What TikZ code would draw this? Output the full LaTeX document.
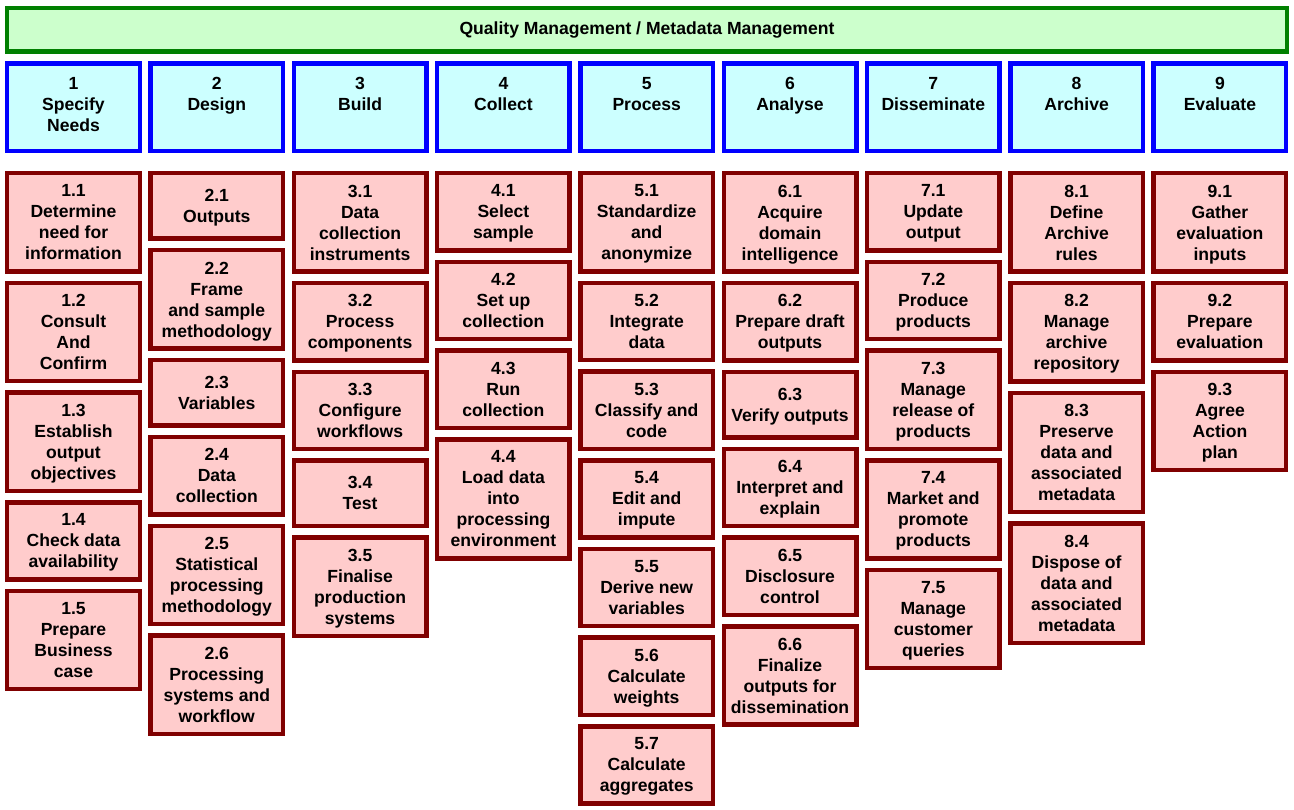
\documentclass[tikz,border=0pt]{standalone}
\usepackage{fontspec}
\setmainfont{Liberation Sans}
\usetikzlibrary{positioning}
\definecolor{qgreen}{RGB}{0,128,0}
\definecolor{qgreenfill}{RGB}{204,255,204}
\definecolor{pblue}{RGB}{0,0,255}
\definecolor{pbluefill}{RGB}{204,255,255}
\definecolor{sred}{RGB}{128,0,0}
\definecolor{sredfill}{RGB}{255,204,204}

\begin{document}
\begin{tikzpicture}[
  font=\bfseries\fontsize{10}{11.95}\selectfont,
  band/.style={draw=qgreen,fill=qgreenfill,line width=0.09cm,minimum width=25.59cm,minimum height=0.87cm,inner sep=0pt},
  phase/.style={draw=pblue,fill=pbluefill,line width=0.09cm,minimum width=2.65cm,minimum height=1.75cm,align=center,inner sep=2pt,execute at begin node=\strut},
  subproc/.style={draw=sred,fill=sredfill,line width=0.09cm,minimum width=2.65cm,minimum height=1.31cm,align=center,inner xsep=2pt,inner ysep=0.23cm,text depth=0pt}
]
  \useasboundingbox (0,0) rectangle (25.88,-16.2);

  \node[band] (qm) at (12.94,-0.60) {Quality Management / Metadata Management};

  % phases
  \node[phase,below=0.15cm of qm.south west,anchor=north west] (p1) {1\\Specify\\Needs};
  \node[phase,right=0.126cm of p1] (p2) {2\\Design\\};
  \node[phase,right=0.126cm of p2] (p3) {3\\Build\\};
  \node[phase,right=0.126cm of p3] (p4) {4\\Collect\\};
  \node[phase,right=0.126cm of p4] (p5) {5\\Process\\};
  \node[phase,right=0.126cm of p5] (p6) {6\\Analyse\\};
  \node[phase,right=0.126cm of p6] (p7) {7\\Disseminate\\};
  \node[phase,right=0.126cm of p7] (p8) {8\\Archive\\};
  \node[phase,right=0.126cm of p8] (p9) {9\\Evaluate\\};

  % 1 specify needs
  \node[subproc,below=0.35cm of p1] (s11) {1.1\\Determine\\need for\\information};
  \node[subproc,below=0.14cm of s11] (s12) {1.2\\Consult\\And\\Confirm};
  \node[subproc,below=0.14cm of s12] (s13) {1.3\\Establish\\output\\objectives};
  \node[subproc,below=0.14cm of s13] (s14) {1.4\\Check data\\availability};
  \node[subproc,below=0.14cm of s14] (s15) {1.5\\Prepare\\Business\\case};

  % 2 design
  \node[subproc,below=0.35cm of p2] (s21) {2.1\\Outputs};
  \node[subproc,below=0.14cm of s21] (s22) {2.2\\Frame\\and sample\\methodology};
  \node[subproc,below=0.14cm of s22] (s23) {2.3\\Variables};
  \node[subproc,below=0.14cm of s23] (s24) {2.4\\Data\\collection};
  \node[subproc,below=0.14cm of s24] (s25) {2.5\\Statistical\\processing\\methodology};
  \node[subproc,below=0.14cm of s25] (s26) {2.6\\Processing\\systems and\\workflow};

  % 3 build
  \node[subproc,below=0.35cm of p3] (s31) {3.1\\Data\\collection\\instruments};
  \node[subproc,below=0.14cm of s31] (s32) {3.2\\Process\\components};
  \node[subproc,below=0.14cm of s32] (s33) {3.3\\Configure\\workflows};
  \node[subproc,below=0.14cm of s33] (s34) {3.4\\Test};
  \node[subproc,below=0.14cm of s34] (s35) {3.5\\Finalise\\production\\systems};

  % 4 collect
  \node[subproc,below=0.35cm of p4] (s41) {4.1\\Select\\sample};
  \node[subproc,below=0.14cm of s41] (s42) {4.2\\Set up\\collection};
  \node[subproc,below=0.14cm of s42] (s43) {4.3\\Run\\collection};
  \node[subproc,below=0.14cm of s43] (s44) {4.4\\Load data\\into\\processing\\environment};

  % 5 process
  \node[subproc,below=0.35cm of p5] (s51) {5.1\\Standardize\\and\\anonymize};
  \node[subproc,below=0.14cm of s51] (s52) {5.2\\Integrate\\data};
  \node[subproc,below=0.14cm of s52] (s53) {5.3\\Classify and\\code};
  \node[subproc,below=0.14cm of s53] (s54) {5.4\\Edit and\\impute};
  \node[subproc,below=0.14cm of s54] (s55) {5.5\\Derive new\\variables};
  \node[subproc,below=0.14cm of s55] (s56) {5.6\\Calculate\\weights};
  \node[subproc,below=0.14cm of s56] (s57) {5.7\\Calculate\\aggregates};

  % 6 analyse
  \node[subproc,below=0.35cm of p6] (s61) {6.1\\Acquire\\domain\\intelligence};
  \node[subproc,below=0.14cm of s61] (s62) {6.2\\Prepare draft\\outputs};
  \node[subproc,below=0.14cm of s62] (s63) {6.3\\Verify outputs};
  \node[subproc,below=0.14cm of s63] (s64) {6.4\\Interpret and\\explain};
  \node[subproc,below=0.14cm of s64] (s65) {6.5\\Disclosure\\control};
  \node[subproc,below=0.14cm of s65] (s66) {6.6\\Finalize\\outputs for\\dissemination};

  % 7 disseminate
  \node[subproc,below=0.35cm of p7] (s71) {7.1\\Update\\output};
  \node[subproc,below=0.14cm of s71] (s72) {7.2\\Produce\\products};
  \node[subproc,below=0.14cm of s72] (s73) {7.3\\Manage\\release of\\products};
  \node[subproc,below=0.14cm of s73] (s74) {7.4\\Market and\\promote\\products};
  \node[subproc,below=0.14cm of s74] (s75) {7.5\\Manage\\customer\\queries};

  % 8 archive
  \node[subproc,below=0.35cm of p8] (s81) {8.1\\Define\\Archive\\rules};
  \node[subproc,below=0.14cm of s81] (s82) {8.2\\Manage\\archive\\repository};
  \node[subproc,below=0.14cm of s82] (s83) {8.3\\Preserve\\data and\\associated\\metadata};
  \node[subproc,below=0.14cm of s83] (s84) {8.4\\Dispose of\\data and\\associated\\metadata};

  % 9 evaluate
  \node[subproc,below=0.35cm of p9] (s91) {9.1\\Gather\\evaluation\\inputs};
  \node[subproc,below=0.14cm of s91] (s92) {9.2\\Prepare\\evaluation};
  \node[subproc,below=0.14cm of s92] (s93) {9.3\\Agree\\Action\\plan};
\end{tikzpicture}
\end{document}
